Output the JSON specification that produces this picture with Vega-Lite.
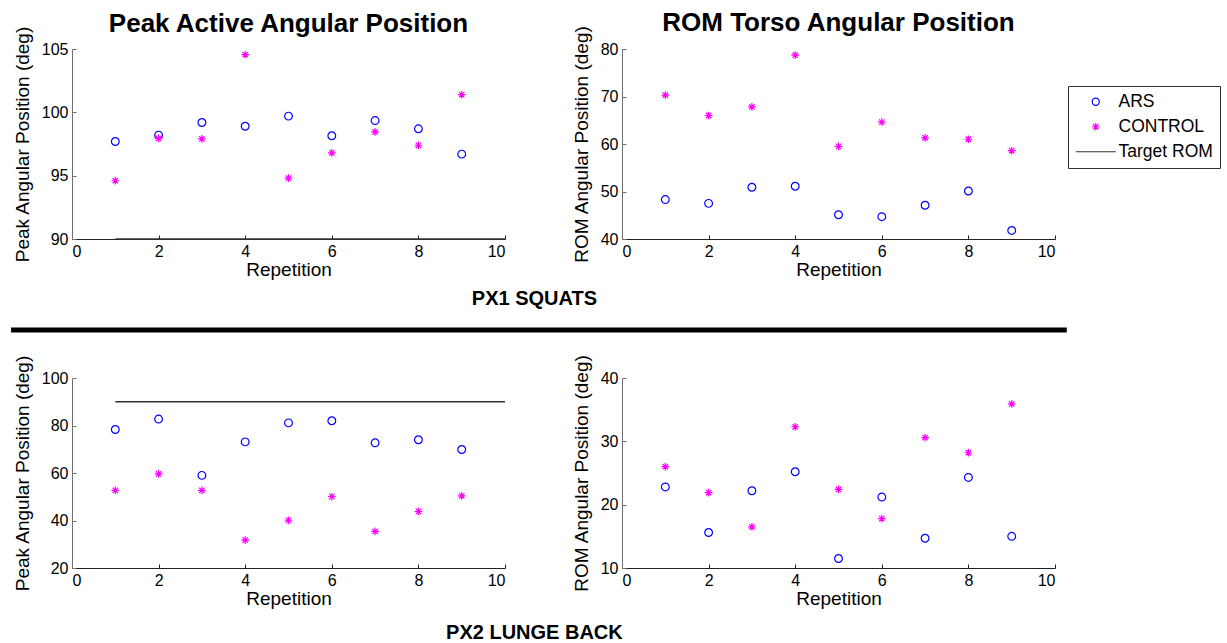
{
  "$schema": "https://vega.github.io/schema/vega-lite/v6.json",
  "background": "white",
  "padding": {"left": 8, "top": 10, "right": 0, "bottom": 0},
  "config": {
    "font": "Liberation Sans",
    "view": {"stroke": null},
    "axis": {
      "grid": false,
      "tickSize": -4,
      "labelPadding": 8,
      "labelFontSize": 16,
      "labelColor": "black",
      "titleFontSize": 19,
      "titleFontWeight": "normal",
      "titleColor": "black"
    },
    "axisX": {"titlePadding": 1, "domainColor": "#222222", "tickColor": "#222222"},
    "axisY": {"titlePadding": 9, "domainColor": "#707070", "tickColor": "#707070"},
    "title": {"fontSize": 26, "fontWeight": "bold", "color": "black", "anchor": "middle"},
    "legend": {
      "orient": "none",
      "legendX": 996,
      "legendY": 37,
      "title": null,
      "strokeColor": "#333333",
      "padding": 7,
      "labelFontSize": 17.5,
      "labelColor": "black",
      "rowPadding": 6,
      "symbolStrokeWidth": 1.2,
      "symbolOffset": 12,
      "labelOffset": 14
    }
  },
  "datasets": {
    "angles": [
      {"panel": "squat_peak", "series": "ARS", "rep": 1, "deg": 97.7},
      {"panel": "squat_peak", "series": "ARS", "rep": 2, "deg": 98.2},
      {"panel": "squat_peak", "series": "ARS", "rep": 3, "deg": 99.2},
      {"panel": "squat_peak", "series": "ARS", "rep": 4, "deg": 98.9},
      {"panel": "squat_peak", "series": "ARS", "rep": 5, "deg": 99.7},
      {"panel": "squat_peak", "series": "ARS", "rep": 6, "deg": 98.15},
      {"panel": "squat_peak", "series": "ARS", "rep": 7, "deg": 99.35},
      {"panel": "squat_peak", "series": "ARS", "rep": 8, "deg": 98.7},
      {"panel": "squat_peak", "series": "ARS", "rep": 9, "deg": 96.7},
      {"panel": "squat_peak", "series": "CONTROL", "rep": 1, "deg": 94.6},
      {"panel": "squat_peak", "series": "CONTROL", "rep": 2, "deg": 97.95},
      {"panel": "squat_peak", "series": "CONTROL", "rep": 3, "deg": 97.9},
      {"panel": "squat_peak", "series": "CONTROL", "rep": 4, "deg": 104.55},
      {"panel": "squat_peak", "series": "CONTROL", "rep": 5, "deg": 94.8},
      {"panel": "squat_peak", "series": "CONTROL", "rep": 6, "deg": 96.8},
      {"panel": "squat_peak", "series": "CONTROL", "rep": 7, "deg": 98.45},
      {"panel": "squat_peak", "series": "CONTROL", "rep": 8, "deg": 97.4},
      {"panel": "squat_peak", "series": "CONTROL", "rep": 9, "deg": 101.4},
      {"panel": "squat_peak", "series": "Target ROM", "rep": 1, "deg": 90},
      {"panel": "squat_peak", "series": "Target ROM", "rep": 10, "deg": 90},

      {"panel": "squat_rom", "series": "ARS", "rep": 1, "deg": 48.3},
      {"panel": "squat_rom", "series": "ARS", "rep": 2, "deg": 47.5},
      {"panel": "squat_rom", "series": "ARS", "rep": 3, "deg": 50.9},
      {"panel": "squat_rom", "series": "ARS", "rep": 4, "deg": 51.1},
      {"panel": "squat_rom", "series": "ARS", "rep": 5, "deg": 45.1},
      {"panel": "squat_rom", "series": "ARS", "rep": 6, "deg": 44.7},
      {"panel": "squat_rom", "series": "ARS", "rep": 7, "deg": 47.1},
      {"panel": "squat_rom", "series": "ARS", "rep": 8, "deg": 50.1},
      {"panel": "squat_rom", "series": "ARS", "rep": 9, "deg": 41.8},
      {"panel": "squat_rom", "series": "CONTROL", "rep": 1, "deg": 70.3},
      {"panel": "squat_rom", "series": "CONTROL", "rep": 2, "deg": 66.0},
      {"panel": "squat_rom", "series": "CONTROL", "rep": 3, "deg": 67.8},
      {"panel": "squat_rom", "series": "CONTROL", "rep": 4, "deg": 78.7},
      {"panel": "squat_rom", "series": "CONTROL", "rep": 5, "deg": 59.5},
      {"panel": "squat_rom", "series": "CONTROL", "rep": 6, "deg": 64.6},
      {"panel": "squat_rom", "series": "CONTROL", "rep": 7, "deg": 61.3},
      {"panel": "squat_rom", "series": "CONTROL", "rep": 8, "deg": 61.0},
      {"panel": "squat_rom", "series": "CONTROL", "rep": 9, "deg": 58.6},

      {"panel": "lunge_peak", "series": "ARS", "rep": 1, "deg": 78.3},
      {"panel": "lunge_peak", "series": "ARS", "rep": 2, "deg": 82.7},
      {"panel": "lunge_peak", "series": "ARS", "rep": 3, "deg": 59.0},
      {"panel": "lunge_peak", "series": "ARS", "rep": 4, "deg": 73.1},
      {"panel": "lunge_peak", "series": "ARS", "rep": 5, "deg": 81.1},
      {"panel": "lunge_peak", "series": "ARS", "rep": 6, "deg": 82.0},
      {"panel": "lunge_peak", "series": "ARS", "rep": 7, "deg": 72.7},
      {"panel": "lunge_peak", "series": "ARS", "rep": 8, "deg": 74.0},
      {"panel": "lunge_peak", "series": "ARS", "rep": 9, "deg": 69.9},
      {"panel": "lunge_peak", "series": "CONTROL", "rep": 1, "deg": 52.7},
      {"panel": "lunge_peak", "series": "CONTROL", "rep": 2, "deg": 59.6},
      {"panel": "lunge_peak", "series": "CONTROL", "rep": 3, "deg": 52.7},
      {"panel": "lunge_peak", "series": "CONTROL", "rep": 4, "deg": 31.7},
      {"panel": "lunge_peak", "series": "CONTROL", "rep": 5, "deg": 40.1},
      {"panel": "lunge_peak", "series": "CONTROL", "rep": 6, "deg": 50.1},
      {"panel": "lunge_peak", "series": "CONTROL", "rep": 7, "deg": 35.4},
      {"panel": "lunge_peak", "series": "CONTROL", "rep": 8, "deg": 43.8},
      {"panel": "lunge_peak", "series": "CONTROL", "rep": 9, "deg": 50.4},
      {"panel": "lunge_peak", "series": "Target ROM", "rep": 1, "deg": 90},
      {"panel": "lunge_peak", "series": "Target ROM", "rep": 10, "deg": 90},

      {"panel": "lunge_rom", "series": "ARS", "rep": 1, "deg": 22.8},
      {"panel": "lunge_rom", "series": "ARS", "rep": 2, "deg": 15.6},
      {"panel": "lunge_rom", "series": "ARS", "rep": 3, "deg": 22.2},
      {"panel": "lunge_rom", "series": "ARS", "rep": 4, "deg": 25.2},
      {"panel": "lunge_rom", "series": "ARS", "rep": 5, "deg": 11.5},
      {"panel": "lunge_rom", "series": "ARS", "rep": 6, "deg": 21.2},
      {"panel": "lunge_rom", "series": "ARS", "rep": 7, "deg": 14.7},
      {"panel": "lunge_rom", "series": "ARS", "rep": 8, "deg": 24.3},
      {"panel": "lunge_rom", "series": "ARS", "rep": 9, "deg": 15.0},
      {"panel": "lunge_rom", "series": "CONTROL", "rep": 1, "deg": 26.0},
      {"panel": "lunge_rom", "series": "CONTROL", "rep": 2, "deg": 21.9},
      {"panel": "lunge_rom", "series": "CONTROL", "rep": 3, "deg": 16.5},
      {"panel": "lunge_rom", "series": "CONTROL", "rep": 4, "deg": 32.3},
      {"panel": "lunge_rom", "series": "CONTROL", "rep": 5, "deg": 22.4},
      {"panel": "lunge_rom", "series": "CONTROL", "rep": 6, "deg": 17.8},
      {"panel": "lunge_rom", "series": "CONTROL", "rep": 7, "deg": 30.6},
      {"panel": "lunge_rom", "series": "CONTROL", "rep": 8, "deg": 28.2},
      {"panel": "lunge_rom", "series": "CONTROL", "rep": 9, "deg": 35.9}
    ],
    "divider": [{"a": 0}]
  },
  "vconcat": [
    {
      "hconcat": [
        {
          "width": 433, "height": 190,
          "title": {"text": "Peak Active Angular Position", "offset": -11},
          "data": {"name": "angles"},
          "transform": [{"filter": "datum.panel == 'squat_peak'"}],
          "layer": [
            {
              "transform": [{"filter": "datum.series == 'Target ROM'"}],
              "mark": {"type": "line", "strokeWidth": 1.5},
              "encoding": {
                "x": {"field": "rep", "type": "quantitative", "scale": {"domain": [0, 10], "nice": false}, "axis": {"values": [0, 2, 4, 6, 8, 10], "title": "Repetition"}},
                "y": {"field": "deg", "type": "quantitative", "scale": {"domain": [90, 105], "nice": false}, "axis": {"values": [90, 95, 100, 105], "title": "Peak Angular Position (deg)"}},
                "color": {"field": "series", "type": "nominal", "scale": {"domain": ["ARS", "CONTROL", "Target ROM"], "range": ["#0000ff", "#ff00ff", "#333333"]},
                  "legend": {"encode": {"symbols": {"update": {"size": {"signal": "datum.value === 'Target ROM' ? 1600 : datum.value === 'ARS' ? 50 : 60"}}}}}}
              }
            },
            {
              "transform": [{"filter": "datum.series != 'Target ROM'"}],
              "mark": {"type": "point", "filled": false, "strokeWidth": 1.2, "opacity": 1, "size": 60},
              "encoding": {
                "x": {"field": "rep", "type": "quantitative", "scale": {"domain": [0, 10], "nice": false}},
                "y": {"field": "deg", "type": "quantitative", "scale": {"domain": [90, 105], "nice": false}},
                "color": {"field": "series", "type": "nominal"},
                "shape": {"field": "series", "type": "nominal", "scale": {"domain": ["ARS", "CONTROL", "Target ROM"], "range": ["circle", "M-1,0H1M0,-1V1M-0.7,-0.7L0.7,0.7M-0.7,0.7L0.7,-0.7", "stroke"]}}
              }
            }
          ]
        },
        {
          "width": 433, "height": 190,
          "title": {"text": "ROM Torso Angular Position", "offset": -11},
          "data": {"name": "angles"},
          "transform": [{"filter": "datum.panel == 'squat_rom'"}],
          "mark": {"type": "point", "filled": false, "strokeWidth": 1.2, "opacity": 1, "size": 60},
          "encoding": {
            "x": {"field": "rep", "type": "quantitative", "scale": {"domain": [0, 10], "nice": false}, "axis": {"values": [0, 2, 4, 6, 8, 10], "title": "Repetition"}},
            "y": {"field": "deg", "type": "quantitative", "scale": {"domain": [40, 80], "nice": false}, "axis": {"values": [40, 50, 60, 70, 80], "title": "ROM Angular Position (deg)"}},
            "color": {"field": "series", "type": "nominal"},
            "shape": {"field": "series", "type": "nominal"}
          }
        }
      ],
      "spacing": 117,
      "bounds": "flush",
      "title": {"text": "PX1 SQUATS", "orient": "bottom", "fontSize": 20, "offset": 10}
    },
    {
      "width": 983, "height": 45,
      "data": {"name": "divider"},
      "mark": {"type": "rule", "strokeWidth": 5, "color": "black", "clip": false},
      "encoding": {
        "x": {"datum": -0.062, "type": "quantitative", "scale": {"domain": [0, 1]}, "axis": null},
        "x2": {"datum": 1.012},
        "y": {"datum": 0.533, "type": "quantitative", "scale": {"domain": [0, 1]}, "axis": null}
      }
    },
    {
      "hconcat": [
        {
          "width": 433, "height": 190,
          "data": {"name": "angles"},
          "transform": [{"filter": "datum.panel == 'lunge_peak'"}],
          "layer": [
            {
              "transform": [{"filter": "datum.series == 'Target ROM'"}],
              "mark": {"type": "line", "strokeWidth": 1.5},
              "encoding": {
                "x": {"field": "rep", "type": "quantitative", "scale": {"domain": [0, 10], "nice": false}, "axis": {"values": [0, 2, 4, 6, 8, 10], "title": "Repetition"}},
                "y": {"field": "deg", "type": "quantitative", "scale": {"domain": [20, 100], "nice": false}, "axis": {"values": [20, 40, 60, 80, 100], "title": "Peak Angular Position (deg)"}},
                "color": {"field": "series", "type": "nominal"}
              }
            },
            {
              "transform": [{"filter": "datum.series != 'Target ROM'"}],
              "mark": {"type": "point", "filled": false, "strokeWidth": 1.2, "opacity": 1, "size": 60},
              "encoding": {
                "x": {"field": "rep", "type": "quantitative", "scale": {"domain": [0, 10], "nice": false}},
                "y": {"field": "deg", "type": "quantitative", "scale": {"domain": [20, 100], "nice": false}},
                "color": {"field": "series", "type": "nominal"},
                "shape": {"field": "series", "type": "nominal"}
              }
            }
          ]
        },
        {
          "width": 433, "height": 190,
          "data": {"name": "angles"},
          "transform": [{"filter": "datum.panel == 'lunge_rom'"}],
          "mark": {"type": "point", "filled": false, "strokeWidth": 1.2, "opacity": 1, "size": 60},
          "encoding": {
            "x": {"field": "rep", "type": "quantitative", "scale": {"domain": [0, 10], "nice": false}, "axis": {"values": [0, 2, 4, 6, 8, 10], "title": "Repetition"}},
            "y": {"field": "deg", "type": "quantitative", "scale": {"domain": [10, 40], "nice": false}, "axis": {"values": [10, 20, 30, 40], "title": "ROM Angular Position (deg)"}},
            "color": {"field": "series", "type": "nominal"},
            "shape": {"field": "series", "type": "nominal"}
          }
        }
      ],
      "spacing": 117,
      "bounds": "flush",
      "title": {"text": "PX2 LUNGE BACK", "orient": "bottom", "fontSize": 20, "offset": 15}
    }
  ],
  "spacing": 0,
  "resolve": {"scale": {"x": "independent", "y": "independent"}}
}
